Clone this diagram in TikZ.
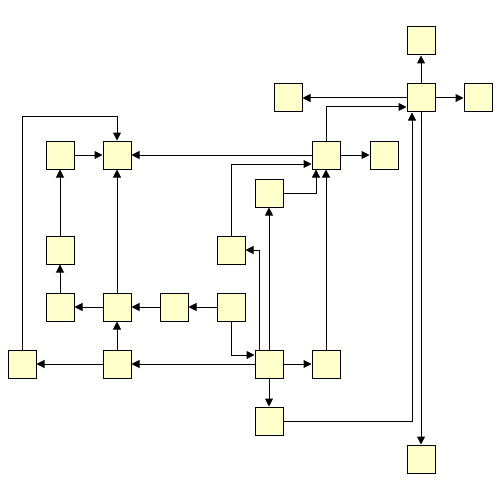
\documentclass[tikz,border=0pt]{standalone}
\usepackage{tikz}
\usetikzlibrary{arrows.meta,calc}
\usepackage{xcolor}
\definecolor{BoxFill}{HTML}{FFFFCC}

\begin{document}
\begin{tikzpicture}[
    x=1pt, y=-1pt,
    box/.style={draw=black, fill=BoxFill, line width=1pt, minimum size=28pt, inner sep=0pt},
    arr/.style={-{Triangle[length=8pt,width=8pt]}, draw=black, line width=1pt}
  ]
    \useasboundingbox (0,0) rectangle (500,500);

    % Left block
    \node[box] (a) at (60,155) {};
    \node[box] (b) at (117,155) {};
    \node[box] (f) at (60,250) {};
    \node[box] (r1) at (60,307) {};
    \node[box] (r2) at (117,307) {};
    \node[box] (r3) at (174,307) {};
    \node[box] (r4) at (231,307) {};
    \node[box] (q1) at (22,364) {};
    \node[box] (q2) at (117,364) {};

    % Middle block
    \node[box] (g) at (231,250) {};
    \node[box] (e) at (269,193) {};
    \node[box] (h) at (269,364) {};
    \node[box] (i) at (326,364) {};
    \node[box] (j) at (269,421) {};
    \node[box] (c) at (326,155) {};
    \node[box] (d) at (384,155) {};

    % Right block
    \node[box] (hub) at (421,98) {};
    \node[box] (up) at (421,41) {};
    \node[box] (lt) at (288,98) {};
    \node[box] (rt) at (478,98) {};
    \node[box] (k) at (421,459) {};

    % Connectors
    \draw[arr] (a) -- (b);
    \draw[arr] (f) -- (a);
    \draw[arr] (r1) -- (f);
    \draw[arr] (r2) -- (r1);
    \draw[arr] (r3) -- (r2);
    \draw[arr] (r4) -- (r3);
    \draw[arr] (q2) -- (r2);
    \draw[arr] (r2) -- (b);
    \draw[arr] (q2) -- (q1);
    \draw[arr] (q1.north) |- ($(b.north)+(0,-24)$) -- (b.north);
    \draw[arr] (c) -- (b);
    \draw[arr] (g.north) |- ($(c.west)+(0,9)$);
    \draw[arr] (e.east) -| ($(c.south)+(-10,0)$);
    \draw[arr] (c) -- (d);
    \draw[arr] (c.north) |- ($(hub.west)+(0,9)$);
    \draw[arr] (hub) -- (lt);
    \draw[arr] (hub) -- (rt);
    \draw[arr] (hub) -- (up);
    \draw[arr] (hub) -- (k);
    \draw[arr] (j.east) -| ($(hub.south)+(-9,0)$);
    \draw[arr] (h) -- (e);
    \draw[arr] ($(h.north)+(-10,0)$) |- (g.east);
    \draw[arr] (h) -- (i);
    \draw[arr] (h) -- (j);
    \draw[arr] (h) -- (q2);
    \draw[arr] (r4.south) |- ($(h.west)+(0,-9)$);
    \draw[arr] (i) -- (c);

  \end{tikzpicture}
\end{document}
